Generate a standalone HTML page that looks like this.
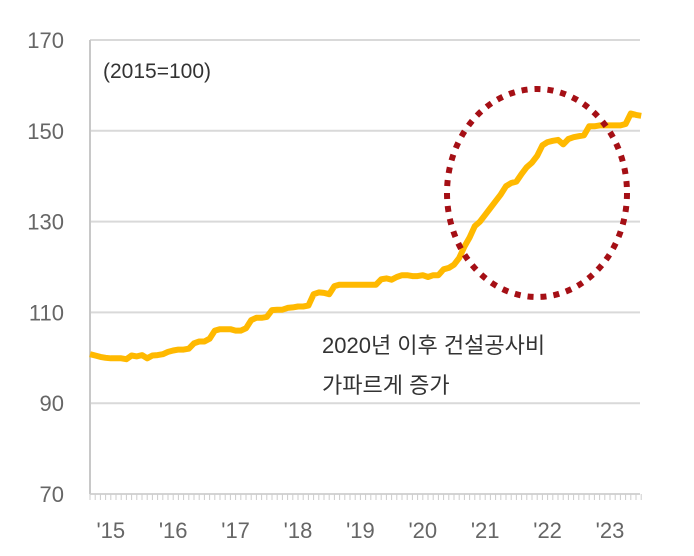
<!DOCTYPE html>
<html><head><meta charset="utf-8"><style>
html,body{margin:0;padding:0;background:#fff;}
svg{display:block;font-family:"Liberation Sans","Noto Sans CJK KR",sans-serif;}
</style></head><body>
<svg id="chart" width="694" height="556"></svg>
<script>
const years = ["'15","'16","'17","'18","'19","'20","'21","'22","'23"];
const yTicks = [70,90,110,130,150,170];
const costIndex = [100.8,100.5,100.2,100.0,99.9,99.9,99.9,99.7,100.5,100.3,100.6,99.9,
100.5,100.6,100.8,101.3,101.6,101.8,101.8,102.0,103.2,103.6,103.6,104.2,
106.0,106.3,106.3,106.3,106.0,106.0,106.5,108.3,108.8,108.8,109.0,110.5,
110.6,110.6,111.0,111.1,111.3,111.3,111.5,114.0,114.4,114.3,114.0,115.8,
116.1,116.1,116.1,116.1,116.1,116.1,116.1,116.1,117.3,117.5,117.2,117.8,
118.2,118.2,118.0,118.0,118.2,117.8,118.2,118.2,119.5,119.8,120.5,122.0,
124.5,126.5,129.0,130.0,131.5,133.0,134.5,136.0,137.8,138.5,138.8,140.5,
142.0,143.0,144.5,146.8,147.5,147.8,148.0,147.0,148.2,148.6,148.8,149.0,
151.0,151.0,151.2,151.2,151.2,151.2,151.2,151.5,153.8,153.5,153.3];
const NS="http://www.w3.org/2000/svg";
const svg=document.getElementById('chart');
const X0=90, X1=640, Y70=494, Y170=40;
const monthStep=5.2;
const xScale=i=>X0+i*monthStep;
const yScale=v=>Y70-(v-70)*(Y70-Y170)/100;
function mk(tag,attrs){const e=document.createElementNS(NS,tag);for(const k in attrs)e.setAttribute(k,attrs[k]);svg.appendChild(e);return e;}
yTicks.forEach(t=>{
  const y=yScale(t);
  const g=mk('line',{x1:X0,x2:X1,y1:y,y2:y,stroke:'#d9d9d9','stroke-width':2});
  
  
  const tx=mk('text',{x:64,y:y+8,'text-anchor':'end','font-size':22,fill:'#666'});
  tx.textContent=t;
  
  
});
const ax=mk('line',{x1:X0,x2:X0,y1:Y170,y2:Y70,stroke:'#c8c8c8','stroke-width':2});


for(let i=0;i<=106;i++){
  const t=mk('line',{x1:xScale(i),x2:xScale(i),y1:Y70,y2:Y70+6,stroke:'#ccc','stroke-width':1});
  
  
}
const xb=mk('line',{x1:X0,x2:X1,y1:Y70,y2:Y70,stroke:'#d0d0d0','stroke-width':1});


years.forEach((lab,k)=>{
  const t=mk('text',{x:xScale(k*12+4),y:538,'text-anchor':'middle','font-size':22,fill:'#666'});
  t.textContent=lab;
  
  
});
const d=costIndex.map((v,i)=>(i?'L':'M')+xScale(i).toFixed(1)+','+yScale(v).toFixed(1)).join(' ');
const line=mk('path',{d:d,fill:'none',stroke:'#FFB900','stroke-width':6,'stroke-linejoin':'round'});


const el=mk('ellipse',{cx:537,cy:193,rx:90,ry:104,fill:'none',stroke:'#A50F15','stroke-width':6,'stroke-dasharray':'6 7'});


const base=mk('text',{x:103,y:78,'font-size':21,fill:'#333'});
base.textContent='(2015=100)';


const a1=mk('text',{x:322,y:353,'font-size':22,fill:'#333'});
a1.textContent='2020년 이후 건설공사비';


const a2=mk('text',{x:322,y:393,'font-size':22,fill:'#333'});
a2.textContent='가파르게 증가';


</script>
</body></html>
